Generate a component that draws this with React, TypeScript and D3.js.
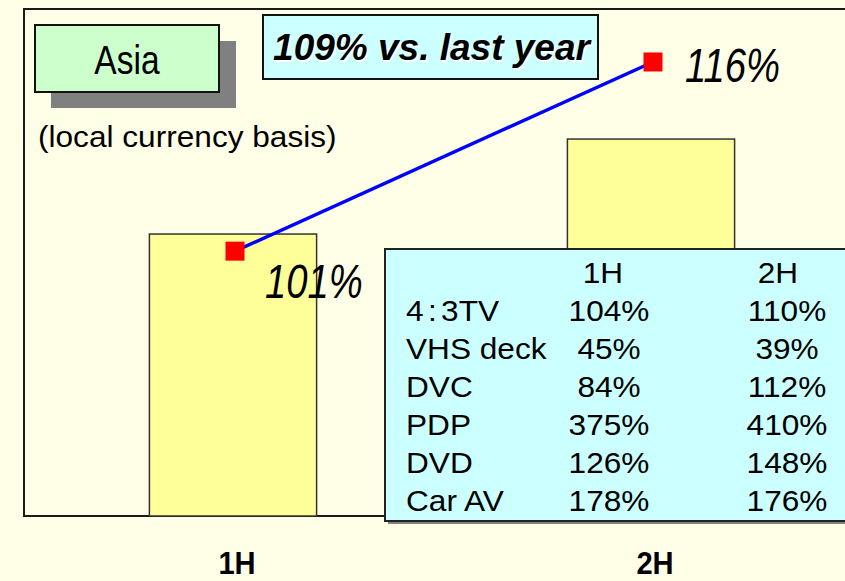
import React from "react";
import * as d3 from "d3";

const categories = ["1H", "2H"];
const barValues = [74.8, 100];
const lineValues = [101, 116];
const lineLabels = ["101%", "116%"];
const regionName = "Asia";
const noteText = "(local currency basis)";
const titleText = "109% vs. last year";
const tableHeader = ["1H", "2H"];
const tableProducts = ["4:3TV", "VHS deck", "DVC", "PDP", "DVD", "Car AV"];
const table1H = ["104%", "45%", "84%", "375%", "126%", "178%"];
const table2H = ["110%", "39%", "112%", "410%", "148%", "176%"];

const W = 845;
const H = 581;
const BG = "#FFFFE8";
const plot = { left: 24, top: 9, bottom: 516, right: 860 };
const labelOffsets = [
  { dx: 30, dy: 47 },
  { dx: 32, dy: 20 },
];

function renderProduct(p: string) {
  const idx = p.indexOf(":");
  if (idx < 0) return p;
  return (
    <>
      {p.slice(0, idx)}
      <tspan dx={4}>:</tspan>
      <tspan dx={4}>{p.slice(idx + 1)}</tspan>
    </>
  );
}

export default function App() {
  const x = d3
    .scaleBand<string>()
    .domain(categories)
    .range([plot.left, plot.right])
    .paddingInner(0.6)
    .paddingOuter(0.3);
  const yBar = d3.scaleLinear().domain([0, 134.5]).range([plot.bottom, plot.top]);
  const yLine = d3.scaleLinear().domain([80, 120.2]).range([plot.bottom, plot.top]);

  const pts = categories.map((c, i) => [
    (x(c) as number) + x.bandwidth() / 2 + 2,
    yLine(lineValues[i]),
  ]) as [number, number][];
  const linePath = d3.line()(pts) as string;

  const sans = "'Liberation Sans', Arial, Helvetica, sans-serif";
  const tableX = 385;
  const tableY = 249;
  const rowY0 = 283;
  const rowStep = 38;
  const col1 = 609;
  const col2 = 787;

  return (
    <div style={{ position: "fixed", left: 0, top: 0 }}>
      <svg width={W} height={H} style={{ display: "block" }}>
        <rect x={0} y={0} width={W} height={H} fill={BG} />
        {/* plot frame */}
        <rect
          x={plot.left}
          y={plot.top}
          width={1000}
          height={plot.bottom - plot.top}
          fill="none"
          stroke="#1a1a1a"
          strokeWidth={2}
        />
        {/* bars */}
        {categories.map((c, i) => (
          <rect
            key={c}
            x={x(c)}
            y={yBar(barValues[i])}
            width={x.bandwidth()}
            height={plot.bottom - yBar(barValues[i])}
            fill="#FFFF99"
            stroke="#333"
            strokeWidth={1.5}
          />
        ))}
        {/* Asia box */}
        <rect x={51} y={41} width={185} height={67} fill="#808080" />
        <rect x={35} y={25} width={184} height={67} fill="#CCFFCC" stroke="#111" strokeWidth={2} />
        <g transform="translate(127,74) scale(0.84,1)">
          <text textAnchor="middle" fontFamily={sans} fontSize={40} fill="#000">
            {regionName}
          </text>
        </g>
        <g transform="translate(38,147) scale(1.09,1)">
          <text fontFamily={sans} fontSize={29} fill="#000">
            {noteText}
          </text>
        </g>
        {/* title box */}
        <rect x={263} y={15} width={335} height={64} fill="#CCFFFF" stroke="#111" strokeWidth={2} />
        <text
          x={433}
          y={61.5}
          textAnchor="middle"
          fontFamily={sans}
          fontSize={37}
          fontWeight="bold"
          fontStyle="italic"
          fill="#fff"
        >
          {titleText}
        </text>
        <text
          x={431.5}
          y={60}
          textAnchor="middle"
          fontFamily={sans}
          fontSize={37}
          fontWeight="bold"
          fontStyle="italic"
          fill="#000"
        >
          {titleText}
        </text>
        {/* line */}
        <path d={linePath} fill="none" stroke="#0000FF" strokeWidth={3.5} />
        {pts.map((p, i) => (
          <rect key={i} x={p[0] - 9.5} y={p[1] - 9.5} width={19} height={19} fill="#FF0000" />
        ))}
        {pts.map((p, i) => (
          <g
            key={"l" + i}
            transform={`translate(${p[0] + labelOffsets[i].dx},${p[1] + labelOffsets[i].dy}) scale(0.78,1)`}
          >
            <text fontFamily={sans} fontSize={49} fontStyle="italic" fill="#000">
              {lineLabels[i]}
            </text>
          </g>
        ))}
        {/* table */}
        <rect x={tableX + 3} y={tableY + 3} width={600} height={272} fill="#808080" />
        <rect
          x={tableX}
          y={tableY}
          width={600}
          height={272}
          fill="#CCFFFF"
          stroke="#222"
          strokeWidth={2}
        />
        {tableHeader.map((h, i) => (
          <g key={h} transform={`translate(${i === 0 ? 603 : 778},${rowY0}) scale(1.09,1)`}>
            <text textAnchor="middle" fontFamily={sans} fontSize={29} fill="#000">
              {h}
            </text>
          </g>
        ))}
        {tableProducts.map((p, i) => {
          const yy = rowY0 + rowStep * (i + 1);
          return (
            <g key={p}>
              <g transform={`translate(406,${yy}) scale(1.09,1)`}>
                <text fontFamily={sans} fontSize={29} fill="#000">
                  {renderProduct(p)}
                </text>
              </g>
              <g transform={`translate(${col1},${yy}) scale(1.09,1)`}>
                <text textAnchor="middle" fontFamily={sans} fontSize={29} fill="#000">
                  {table1H[i]}
                </text>
              </g>
              <g transform={`translate(${col2},${yy}) scale(1.09,1)`}>
                <text textAnchor="middle" fontFamily={sans} fontSize={29} fill="#000">
                  {table2H[i]}
                </text>
              </g>
            </g>
          );
        })}
        {/* x axis labels */}
        {categories.map((c) => (
          <g
            key={"x" + c}
            transform={`translate(${(x(c) as number) + x.bandwidth() / 2 + 4},574) scale(0.94,1)`}
          >
            <text textAnchor="middle" fontFamily={sans} fontSize={31} fontWeight="bold" fill="#000">
              {c}
            </text>
          </g>
        ))}
      </svg>
    </div>
  );
}
